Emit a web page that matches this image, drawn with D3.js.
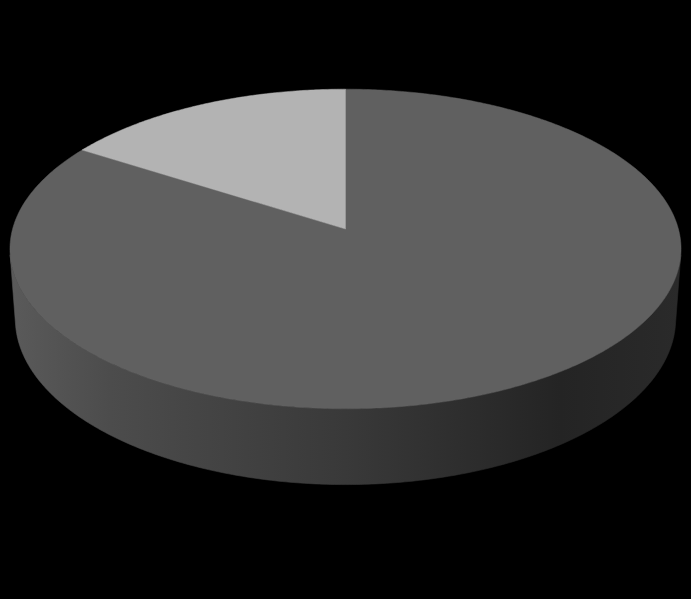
<!DOCTYPE html>
<html>
<head>
<meta charset="utf-8">
<script src="https://cdn.jsdelivr.net/npm/d3@7"></script>
<style>
  html, body { margin: 0; padding: 0; background: #000; }
  svg { display: block; }
</style>
</head>
<body>
<div id="chart"></div>
<script>
// data
var categories = ["Series 1", "Series 2"];
var values = [84, 16];
var sliceColors = ["#606060", "#b3b3b3"];

var svgWidth = 691;
var svgHeight = 599;

// camera for the tilted pie (perspective)
var cam = {
  cx: 345.5,
  cy: 229,
  k: 2347,
  D: 7.05,
  tilt: 28.2 * Math.PI / 180,
  depth: 0.24
};
var sinA = Math.sin(cam.tilt), cosA = Math.cos(cam.tilt);

// project a point of the pie (angle clockwise from 12 o'clock, radius 0..1, height)
function project(theta, r, h) {
  var X = r * Math.sin(theta);
  var Z = r * Math.cos(theta);
  var yc = h * cosA + Z * sinA;
  var d = cam.D + Z * cosA - h * sinA;
  return [cam.cx + cam.k * X / d, cam.cy - cam.k * yc / d];
}

function arcPoints(a0, a1, r, h) {
  var n = Math.max(2, Math.ceil((a1 - a0) / 0.01));
  return d3.range(n + 1).map(function(i) {
    return project(a0 + (a1 - a0) * i / n, r, h);
  });
}

var svg = d3.select("#chart")
  .append("svg")
  .attr("width", svgWidth)
  .attr("height", svgHeight);

svg.append("rect")
  .attr("width", svgWidth)
  .attr("height", svgHeight)
  .attr("fill", "#000");

// side shading
var grad = svg.append("defs").append("linearGradient")
  .attr("id", "side")
  .attr("gradientUnits", "userSpaceOnUse")
  .attr("x1", 10).attr("x2", 681)
  .attr("y1", 0).attr("y2", 0);
[[0, "#5a5a5a"], [0.15, "#4c4c4c"], [0.5, "#393939"], [0.82, "#242424"], [1, "#2a2a2a"]]
  .forEach(function(s) {
    grad.append("stop").attr("offset", s[0]).attr("stop-color", s[1]);
  });

var pie = d3.pie().sort(null).value(function(d) { return d; });
var arcs = pie(values);

var line = d3.line().curve(d3.curveLinearClosed);

// visible front wall lies between the two silhouette generators
var sil = Math.acos(-1 / (cam.D * cosA));
var front0 = sil, front1 = 2 * Math.PI - sil;

var chartGroup = svg.append("g");

// outer walls
arcs.forEach(function(a, i) {
  var s = Math.max(a.startAngle, front0);
  var e = Math.min(a.endAngle, front1);
  if (e <= s) return;
  var top = arcPoints(s, e, 1, 0);
  var bottom = arcPoints(s, e, 1, -cam.depth).reverse();
  chartGroup.append("path")
    .attr("d", line(top.concat(bottom)))
    .attr("fill", "url(#side)")
    .attr("stroke", "url(#side)")
    .attr("stroke-width", 0.6);
});

// top faces
chartGroup.selectAll(".slice")
  .data(arcs)
  .enter()
  .append("path")
  .classed("slice", true)
  .attr("d", function(a) {
    return line([project(0, 0, 0)].concat(arcPoints(a.startAngle, a.endAngle, 1, 0)));
  })
  .attr("fill", function(a, i) { return sliceColors[i]; })
  .attr("stroke", function(a, i) { return sliceColors[i]; })
  .attr("stroke-width", 0.5)
  .append("title")
  .text(function(a, i) { return categories[i] + ": " + a.data; });
</script>
</body>
</html>
